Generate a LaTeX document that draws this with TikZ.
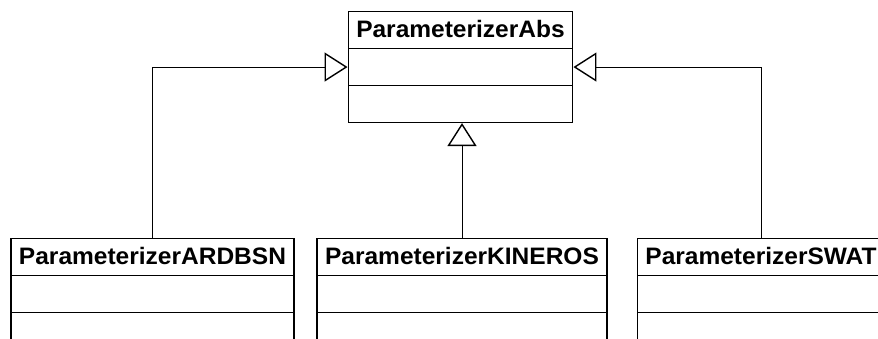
\documentclass[tikz,border=0pt]{standalone}
\usepackage{fontspec}
\newfontfamily\umlfont{Liberation Sans}[FakeStretch=1.03]
\usetikzlibrary{shapes.multipart,arrows.meta,calc}

\newcommand{\umlstrut}{\rule[-10.8pt]{0pt}{35.5pt}}
\newcommand{\classbody}[1]{\umlstrut#1\nodepart{two}\umlstrut\nodepart{three}\umlstrut}

\begin{document}
\begin{tikzpicture}[x=1pt, y=-1pt,
    umlclass/.style={rectangle split, rectangle split parts=3, draw, line width=1.4pt,
      inner ysep=0pt, inner xsep=8pt, anchor=north,
      font=\umlfont\bfseries\fontsize{23.8}{28}\selectfont},
    extends/.style={draw, line width=0.8pt,
      -{Triangle[open, length=23pt, width=29pt, line width=1.4pt]}}]
  \useasboundingbox (0,0) rectangle (878,339);

  \node[umlclass] (abs) at (460.5,11) {\classbody{ParameterizerAbs}};
  \node[umlclass] (ardbsn) at (152.5,238) {\classbody{ParameterizerARDBSN}};
  \node[umlclass] (kineros) at (462,238) {\classbody{ParameterizerKINEROS}};
  \node[umlclass] (swat) at (761,238) {\classbody{ParameterizerSWAT}};

  \coordinate (absleft) at ($(abs.text split west)!0.5!(abs.two split west)$);
  \coordinate (absright) at ($(abs.text split east)!0.5!(abs.two split east)$);

  \draw[extends] (ardbsn.north) |- (absleft);
  \draw[extends] (kineros.north) -- (kineros.north |- abs.south);
  \draw[extends] (swat.north) |- (absright);
  %\draw[red] (abs.south) circle (2);
\end{tikzpicture}
\end{document}
